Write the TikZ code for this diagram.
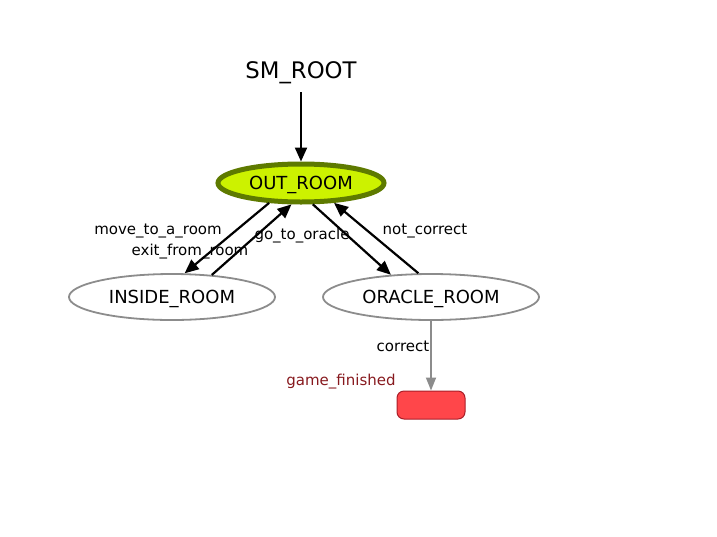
\documentclass[tikz,border=0pt]{standalone}
\usepackage{fontspec}
\setmainfont{DejaVu Sans}
\usetikzlibrary{shapes.geometric}
\usetikzlibrary{arrows.meta}
\usepackage{xcolor}
\definecolor{activefill}{RGB}{204,242,0}
\definecolor{activeline}{RGB}{94,122,0}
\definecolor{stateline}{RGB}{140,140,140}
\definecolor{donefill}{RGB}{255,70,74}
\definecolor{doneline}{RGB}{170,30,40}
\definecolor{donetext}{RGB}{135,25,30}

\begin{document}
\begin{tikzpicture}[x=1pt,y=-1pt,
    statenode/.style={ellipse,draw=stateline,line width=1.8pt,inner sep=0pt,text depth=0pt,font=\fontsize{18}{21}\selectfont},
    trans/.style={line width=2.2pt,-{Triangle[length=14pt,width=12pt]}},
    edgelabel/.style={text depth=0pt,font=\fontsize{15}{18}\selectfont}]
          \useasboundingbox (0,0) rectangle (717,536);
          \node[text depth=0pt] (root) at (301,70) {\fontsize{22.8}{27}\selectfont SM\_ROOT};
          \node[statenode,draw=activeline,fill=activefill,line width=5pt,minimum width=166pt,minimum height=38pt] (out) at (301,183) {OUT\_ROOM};
          \node[statenode,minimum width=206pt,minimum height=46pt] (inside) at (172,297) {INSIDE\_ROOM};
          \node[statenode,minimum width=216pt,minimum height=46pt] (oracle) at (431,297) {ORACLE\_ROOM};
          \node[draw=doneline,fill=donefill,line width=1pt,rounded corners=7pt,minimum width=68pt,minimum height=28pt] (done) at (431,405) {};
          \coordinate (rootend) at (301,92);
          \draw[trans] (rootend) -- (out.north);
          \draw[trans] (out.212) -- (inside.62);
          \draw[trans] (inside.29) -- (out.246);
          \draw[trans] (out.299) -- (oracle.151);
          \draw[trans] (oracle.118) -- (out.329);
          \draw[stateline,line width=1.8pt,-{Triangle[length=13pt,width=10pt]}] (oracle.south) -- (done.north);
          \node[edgelabel] (lmove) at (158,229) {move\_to\_a\_room};
          \node[edgelabel] (lexit) at (190,250) {exit\_from\_room};
          \node[edgelabel] (lgo) at (302,234) {go\_to\_oracle};
          \node[edgelabel] (lnot) at (425,229) {not\_correct};
          \node[edgelabel] (lcorrect) at (403,346) {correct};
          \node[edgelabel,text=donetext] (ldone) at (341,380) {game\_finished};
        \end{tikzpicture}
\end{document}
